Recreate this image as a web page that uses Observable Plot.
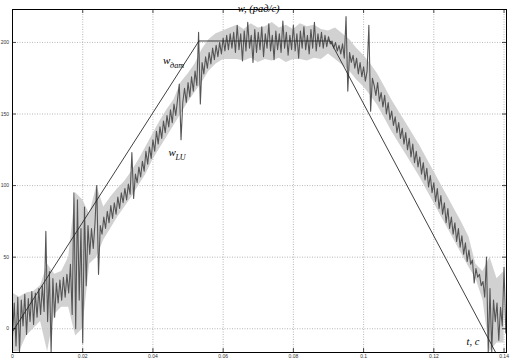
<!DOCTYPE html>
<html>
<head>
<meta charset="utf-8">
<script src="https://cdn.jsdelivr.net/npm/d3@7"></script>
<script src="https://cdn.jsdelivr.net/npm/@observablehq/plot@0.6"></script>
<style>
  html, body { margin: 0; padding: 0; background: #fff; }
  #chart { width: 514px; height: 360px; overflow: hidden; }
</style>
</head>
<body>
<div id="chart"></div>
<script>
// ---- data ----
const xTicks = [0, 0.02, 0.04, 0.06, 0.08, 0.1, 0.12, 0.14];
const xTickLabels = ["0", "0.02", "0.04", "0.06", "0.08", "0.1", "0.12", "0.14"];
const yTicks = [0, 50, 100, 150, 200];
const yTickLabels = ["0", "50", "100", "150", "200"];

// reference (sensor) speed profile w_дат : corner points
const refT = [0, 0.0531, 0.0905, 0.1376];
const refW = [-2, 201, 201, -16.5];

// measured speed w_LU, sampled every 0.0005 s starting at t = 0
const sampleStep = 0.0005;
const measW = [
  -5, 18, -12, 22, -16, 20, 2, 24, -4, 21, 5, 26, 3, 25, 8, 28, 10, 30,
  12, 68, 5, 40, -16, 35, 8, 32, 18, 34, 20, 36, 22, 38, 25, 45, 10, 95,
  0, 90, 20, 70, -10, 85, 30, 72, 52, 70, 56, 74, 100, 38, 72, 66, 78, 70,
  82, 74, 86, 77, 88, 80, 92, 84, 95, 88, 98, 90, 101, 94, 123, 91, 108, 102,
  113, 106, 117, 110, 124, 115, 127, 119, 132, 124, 138, 129, 141, 133, 145, 137,
  149, 141, 153, 144, 157, 149, 160, 171, 132, 158, 168, 158, 172, 162, 176, 166,
  180, 170, 207, 157, 186, 178, 190, 182, 193, 185, 196, 188, 198, 190, 200, 192,
  203, 194, 205, 195, 206, 196, 207, 193, 212, 195, 206, 187, 208, 194, 214, 196,
  205, 186, 209, 193, 207, 195, 211, 190, 206, 196, 213, 194, 205, 188, 208, 195,
  206, 193, 215, 196, 207, 191, 205, 195, 212, 194, 206, 189, 208, 196, 211, 195,
  205, 192, 209, 196, 214, 194, 206, 197, 207, 196, 205, 197, 204, 199, 201, 196,
  200, 194, 198, 192, 199, 189, 218, 166, 193, 186, 191, 182, 189, 178, 186, 176,
  183, 173, 180, 212, 152, 175, 170, 163, 172, 159, 165, 155, 163, 150, 158, 146,
  152, 142, 148, 137, 144, 133, 140, 129, 137, 125, 133, 120, 129, 116, 124, 113,
  120, 108, 116, 104, 112, 99, 107, 95, 102, 89, 98, 84, 93, 80, 88, 74,
  84, 70, 78, 66, 74, 61, 70, 57, 65, 52, 60, 47, 55, 45, 48, 32,
  42, 36, 38, 30, 33, 22, 50, -16, 28, -16, 20, 5, 18, -8, 15, 2,
  43, -3
];

// light-grey noise envelope of w_LU, every 0.002 s from t = 0
const envStep = 0.002;
const envLo = [
  -16, -16, -5, 0, 5, -16, 10, 15, 15, -5, 0, 45, 50, 62, 70, 78, 85, 92,
  100, 108, 118, 126, 134, 142, 150, 158, 165, 172, 180, 185, 188, 188, 188, 187,
  189, 186, 188, 187, 189, 186, 188, 188, 187, 189, 188, 192, 188, 184, 180, 174,
  169, 163, 156, 147, 138, 130, 122, 114, 106, 97, 88, 79, 70, 61, 52, 43,
  35, 20, -16, -10, -10
];
const envHi = [
  25, 22, 25, 26, 30, 45, 38, 40, 50, 95, 90, 80, 100, 85, 92, 98, 103, 110,
  118, 127, 136, 145, 153, 160, 172, 178, 185, 195, 202, 206, 208, 210, 212, 209,
  213, 210, 211, 214, 210, 212, 209, 213, 211, 212, 209, 208, 210, 206, 202, 196,
  191, 185, 178, 169, 160, 152, 144, 136, 128, 119, 110, 101, 92, 83, 74, 64,
  45, 40, 50, 35, 40
];

// annotations
const titleText = "w, (рад/с)";
const titleT = 0.0701;
const labels = [
  {t: 0.0429, w: 187.5, main: "w", sub: "дат"},
  {t: 0.0444, w: 123,   main: "w", sub: "LU"}
];
const axisName = {t: 0.1293, w: -9, text: "t, с"};

// ---- build tables ----
const measured = measW.map((w, i) => ({t: i * sampleStep, w}));
const envelope = envLo.map((lo, i) => ({t: i * envStep, lo, hi: envHi[i]}));
const reference = refT.map((t, i) => ({t, w: refW[i]}));

const W = 514, H = 360;
const mT = 9, mB = 8, mL = 12, mR = 8;
const plotH = H - mT - mB, plotW = W - mL - mR;
const serif = "'Liberation Serif', 'DejaVu Serif', serif";

const chart = Plot.plot({
  width: W, height: H,
  marginTop: mT, marginBottom: mB, marginLeft: mL, marginRight: mR,
  x: {domain: [0, 0.1407], label: null},
  y: {domain: [-16.6, 223], label: null},
  style: {background: "#fff", fontFamily: "'Liberation Sans', Arial, sans-serif", fontSize: "5px", color: "#333"},
  marks: [
    Plot.gridX(xTicks, {stroke: "#9a9a9a", strokeOpacity: 1, strokeWidth: 0.7, strokeDasharray: "1,1.5"}),
    Plot.gridY(yTicks, {stroke: "#9a9a9a", strokeOpacity: 1, strokeWidth: 0.7, strokeDasharray: "1,1.5"}),
    Plot.areaY(envelope, {x: "t", y1: "lo", y2: "hi", fill: "#c6c6c6", fillOpacity: 0.8, curve: "linear", clip: true}),
    Plot.line(measured, {x: "t", y: "w", stroke: "#555", strokeWidth: 1.1, clip: true}),
    Plot.line(reference, {x: "t", y: "w", stroke: "#2a2a2a", strokeWidth: 0.9, clip: true}),
    Plot.frame({stroke: "#000", strokeWidth: 1}),
    // inward ticks
    Plot.ruleX(xTicks, {x: d => d, insetTop: plotH - 4, stroke: "#000", strokeWidth: 0.7}),
    Plot.ruleX(xTicks, {x: d => d, insetBottom: plotH - 4, stroke: "#000", strokeWidth: 0.7}),
    Plot.ruleY(yTicks, {y: d => d, insetRight: plotW - 4, stroke: "#000", strokeWidth: 0.7}),
    Plot.ruleY(yTicks, {y: d => d, insetLeft: plotW - 4, stroke: "#000", strokeWidth: 0.7}),
    Plot.axisX({ticks: xTicks, tickSize: 0, tickPadding: 2, fontSize: 5,
      tickFormat: d => xTickLabels[xTicks.indexOf(d)]}),
    Plot.axisY({ticks: yTicks, tickSize: 0, tickPadding: 3.5, fontSize: 5,
      tickFormat: d => yTickLabels[yTicks.indexOf(d)]}),
    // title
    Plot.text([titleText], {x: [titleT], frameAnchor: "top", dy: -4.5, text: d => d,
      fontFamily: serif, fontStyle: "italic", fontSize: 10.5, fill: "#000"}),
    // curve labels
    Plot.text(labels, {x: "t", y: "w", text: "main", textAnchor: "start",
      fontFamily: serif, fontStyle: "italic", fontSize: 11, fill: "#000"}),
    Plot.text(labels, {x: "t", y: "w", text: "sub", textAnchor: "start", dx: 7, dy: 5,
      fontFamily: serif, fontStyle: "italic", fontSize: 8, fill: "#000"}),
    Plot.text([axisName], {x: "t", y: "w", text: "text", textAnchor: "start",
      fontFamily: serif, fontStyle: "italic", fontSize: 10.5, fill: "#000"})
  ]
});
document.getElementById("chart").appendChild(chart);
</script>
</body>
</html>
